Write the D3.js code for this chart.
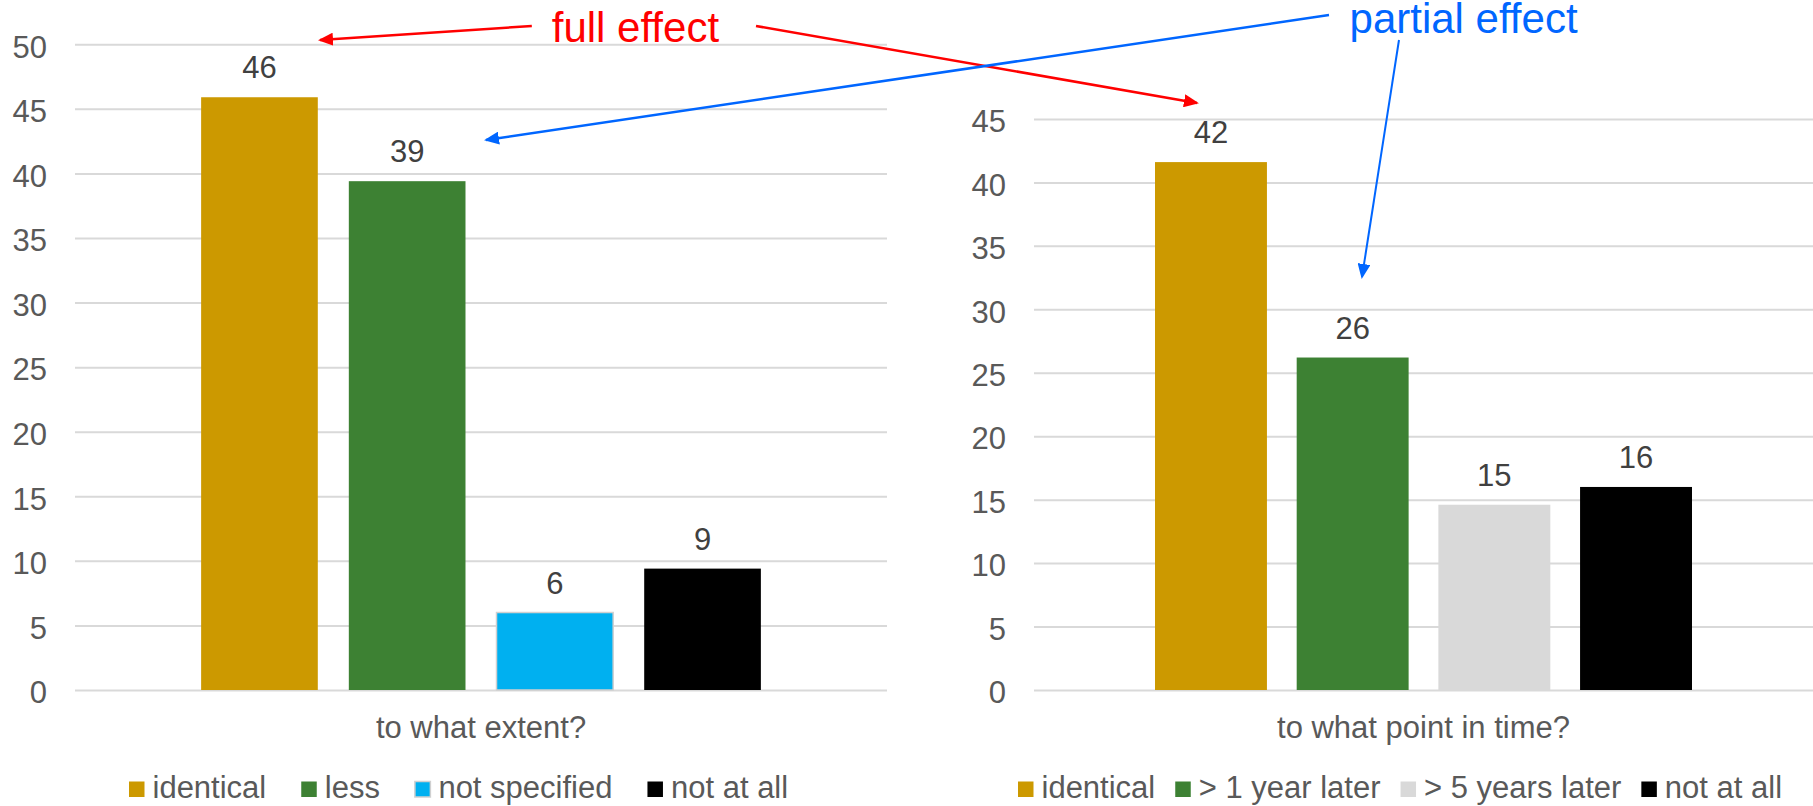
<!DOCTYPE html>
<html>
<head>
<meta charset="utf-8">
<script src="https://cdn.jsdelivr.net/npm/d3@7/dist/d3.min.js"></script>
<style>
  html, body { margin: 0; padding: 0; background: #fff; }
  svg { display: block; font-family: "Liberation Sans", Arial, sans-serif; }
</style>
</head>
<body>
<svg id="chart" width="1813" height="806"></svg>
<script>
// ---------------- data ----------------
const leftCategories  = ["identical", "less", "not specified", "not at all"];
const leftValues      = [45.9, 39.4, 6.0, 9.4];
const leftTitle       = "to what extent?";
const leftTicks       = [0, 5, 10, 15, 20, 25, 30, 35, 40, 45, 50];

const rightCategories = ["identical", "> 1 year later", "> 5 years later", "not at all"];
const rightValues     = [41.6, 26.2, 14.6, 16.0];
const rightTitle      = "to what point in time?";
const rightTicks      = [0, 5, 10, 15, 20, 25, 30, 35, 40, 45];

const fullEffectLabel    = "full effect";
const partialEffectLabel = "partial effect";

// ---------------- styles ----------------
const leftColors  = ["#CC9900", "#3D8133", "#00B0F0", "#000000"];
const rightColors = ["#CC9900", "#3D8133", "#D9D9D9", "#000000"];
const leftStroke  = [null, null, "#D0D0D0", null];
const gridColor = "#D9D9D9";
const tickColor = "#595959";
const labelColor = "#404040";
const FS = 31;

const svg = d3.select("#chart");

const xL = d3.scaleBand().domain(leftCategories).range([75, 887]).paddingInner(0.21).paddingOuter(0.854);
const yL = d3.scaleLinear().domain([0, 50]).range([690, 44.3]);
const xR = d3.scaleBand().domain(rightCategories).range([1034, 1813]).paddingInner(0.21).paddingOuter(0.854);
const yR = d3.scaleLinear().domain([0, 50]).range([690, 55.5]);

function drawChart(x, y, cats, vals, colors, strokes, ticks, title, legendStart, legendGap) {
  const [x0, x1] = x.range();
  const g = svg.append("g");

  const axis = d3.axisLeft(y).tickValues(ticks).tickSize(-(x1 - x0)).tickPadding(28);
  const ag = g.append("g").attr("transform", `translate(${x0},0)`).call(axis);
  ag.select(".domain").remove();
  ag.selectAll(".tick line").attr("stroke", gridColor).attr("stroke-width", 2);
  ag.selectAll(".tick text")
    .attr("fill", tickColor).attr("font-size", FS)
    .attr("font-family", "Liberation Sans, Arial, sans-serif")
    .attr("dy", "0.41em");

  const data = cats.map((c, i) => ({ c, v: vals[i], color: colors[i], stroke: strokes ? strokes[i] : null }));

  g.selectAll("rect.bar").data(data).enter().append("rect")
    .attr("class", "bar")
    .attr("x", d => x(d.c))
    .attr("width", x.bandwidth())
    .attr("y", d => y(d.v))
    .attr("height", d => y(0) - y(d.v))
    .attr("fill", d => d.color)
    .attr("stroke", d => d.stroke || "none")
    .attr("stroke-width", 1.5);

  g.selectAll("text.vl").data(data).enter().append("text")
    .attr("class", "vl")
    .attr("x", d => x(d.c) + x.bandwidth() / 2)
    .attr("y", d => y(d.v) - 19)
    .attr("text-anchor", "middle")
    .attr("font-size", FS)
    .attr("fill", labelColor)
    .text(d => d3.format(".0f")(d.v));

  g.append("text")
    .attr("x", (x0 + x1) / 2)
    .attr("y", 738)
    .attr("text-anchor", "middle")
    .attr("font-size", FS)
    .attr("fill", tickColor)
    .text(title);

  let cx = legendStart;
  data.forEach(d => {
    g.append("rect")
      .attr("x", cx).attr("y", 781.5)
      .attr("width", 15.5).attr("height", 15.5)
      .attr("fill", d.color)
      .attr("stroke", d.stroke || "none").attr("stroke-width", 1.5);
    const t = g.append("text")
      .attr("x", cx + 23.5).attr("y", 798)
      .attr("font-size", FS).attr("fill", tickColor)
      .text(d.c);
    cx += 23.5 + t.node().getComputedTextLength() + legendGap;
  });
}

drawChart(xL, yL, leftCategories, leftValues, leftColors, leftStroke, leftTicks, leftTitle, 129, 35);
drawChart(xR, yR, rightCategories, rightValues, rightColors, null, rightTicks, rightTitle, 1018, 20);

// ---------------- annotations ----------------
const defs = svg.append("defs");
function marker(id, color) {
  defs.append("marker")
    .attr("id", id)
    .attr("viewBox", "0 0 15 13")
    .attr("refX", 13).attr("refY", 6.5)
    .attr("markerWidth", 15).attr("markerHeight", 13)
    .attr("markerUnits", "userSpaceOnUse")
    .attr("orient", "auto")
    .append("path").attr("d", "M0,0 L15,6.5 L0,13 Z").attr("fill", color);
}
marker("arrRed", "#FF0000");
marker("arrBlue", "#0066FF");

const charts = { L: { x: xL, y: yL }, R: { x: xR, y: yR } };
function px(ch, u) { const s = charts[ch].x; return s(s.domain()[0]) + u * s.step(); }
function py(ch, v) { return charts[ch].y(v); }

const arrows = [
  { from: ["L", 2.239, 51.42], to: ["L", 0.805, 50.33], color: "#FF0000", m: "arrRed", w: 2.5 },
  { from: ["L", 3.757, 51.42], to: ["R", 0.296, 46.26], color: "#FF0000", m: "arrRed", w: 2.5 },
  { from: ["R", 1.228, 53.19], to: ["L", 1.929, 42.59], color: "#0066FF", m: "arrBlue", w: 2.5 },
  { from: ["R", 1.722, 51.22], to: ["R", 1.461, 32.55], color: "#0066FF", m: "arrBlue", w: 2 }
];
svg.selectAll("line.ann").data(arrows).enter().append("line")
  .attr("class", "ann")
  .attr("x1", d => px(d.from[0], d.from[1])).attr("y1", d => py(d.from[0], d.from[2]))
  .attr("x2", d => px(d.to[0], d.to[1])).attr("y2", d => py(d.to[0], d.to[2]))
  .attr("stroke", d => d.color).attr("stroke-width", d => d.w)
  .attr("marker-end", d => `url(#${d.m})`);

svg.append("text")
  .attr("x", px("L", 2.374)).attr("y", py("L", 50.2))
  .attr("font-size", 42).attr("fill", "#FF0000")
  .text(fullEffectLabel);
svg.append("text")
  .attr("x", px("R", 1.373)).attr("y", py("R", 51.77))
  .attr("font-size", 42).attr("fill", "#0066FF")
  .text(partialEffectLabel);
</script>
</body>
</html>
